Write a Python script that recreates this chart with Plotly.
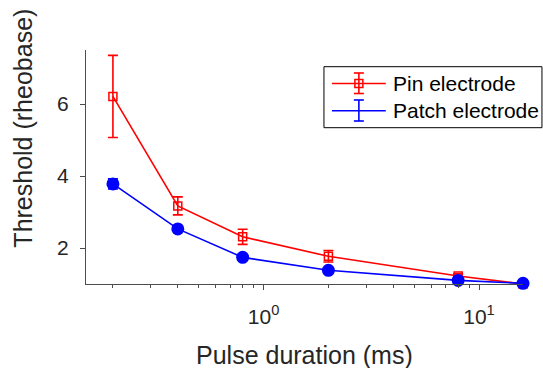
import numpy as np
import plotly.graph_objects as go

# Pulse durations (ms)
durations = [0.2, 0.4, 0.8, 2, 8, 16]

# Thresholds normalised to rheobase
pin_mean = [6.21, 3.17, 2.31, 1.77, 1.22, 1.0]
pin_err = [1.14, 0.25, 0.21, 0.16, 0.06, 0.0]

patch_mean = [3.78, 2.53, 1.74, 1.38, 1.10, 1.02]
patch_err = [0.14, 0.08, 0.06, 0.05, 0.04, 0.02]

y_ticks = [2, 4, 6]
x_major = [1, 10]
x_major_text = ["10<sup>0</sup>", "10<sup>1</sup>"]
x_minor = [0.2, 0.3, 0.4, 0.5, 0.6, 0.7, 0.8, 0.9, 2, 3, 4, 5, 6, 7, 8, 9]

W, H = 543, 368
L, R, T, B = 85.5, 19.5, 50, 84
PW, PH = W - L - R, H - T - B
FONT = "Liberation Sans, Arial, Helvetica, sans-serif"
TXT = "#262626"
RED, BLUE = "#ff0000", "#0000ff"


def px(x):
    return (x - L) / PW


def py(y):
    return (H - B - y) / PH


fig = go.Figure()
fig.add_trace(go.Scatter(
    x=durations, y=pin_mean, mode="lines+markers", name="Pin electrode",
    line=dict(color=RED, width=1.6),
    marker=dict(symbol="square-open", size=8, color=RED, line=dict(width=1.5, color=RED)),
    error_y=dict(type="data", array=pin_err, visible=True, color=RED, thickness=1.6, width=5),
    cliponaxis=False, showlegend=False,
))
fig.add_trace(go.Scatter(
    x=durations, y=patch_mean, mode="lines+markers", name="Patch electrode",
    line=dict(color=BLUE, width=1.6),
    marker=dict(symbol="circle", size=13, color=BLUE),
    error_y=dict(type="data", array=patch_err, visible=True, color=BLUE, thickness=1.6, width=5),
    cliponaxis=False, showlegend=False,
))

# Legend box drawn by hand so each entry shows its error-bar glyph
shapes = []
ann = []
lx0, lx1, ly0, ly1 = 324, 542.5, 66.7, 127.7
shapes.append(dict(type="rect", xref="paper", yref="paper",
                   x0=px(lx0), x1=px(lx1), y0=py(ly1), y1=py(ly0),
                   line=dict(color="#000000", width=1), fillcolor="white", layer="above"))
entries = [("Pin electrode", RED, 83.5, 73, 93.5, True),
           ("Patch electrode", BLUE, 110.7, 100, 121, False)]
for label, col, yc, ytop, ybot, sq in entries:
    shapes.append(dict(type="line", xref="paper", yref="paper",
                       x0=px(332), x1=px(386), y0=py(yc), y1=py(yc),
                       line=dict(color=col, width=1.6), layer="above"))
    shapes.append(dict(type="line", xref="paper", yref="paper",
                       x0=px(359), x1=px(359), y0=py(ytop), y1=py(ybot),
                       line=dict(color=col, width=1.6), layer="above"))
    for yy in (ytop, ybot):
        shapes.append(dict(type="line", xref="paper", yref="paper",
                           x0=px(354), x1=px(364), y0=py(yy), y1=py(yy),
                           line=dict(color=col, width=1.6), layer="above"))
    if sq:
        shapes.append(dict(type="rect", xref="paper", yref="paper",
                           x0=px(355), x1=px(363), y0=py(yc + 4), y1=py(yc - 4),
                           line=dict(color=col, width=1.5), layer="above"))
    ann.append(dict(text=label, xref="paper", yref="paper", x=px(391), y=py(yc),
                    xanchor="left", yanchor="middle", showarrow=False,
                    font=dict(family=FONT, size=21, color="#000000")))

# axis titles as free text
ann.append(dict(text="Threshold (rheobase)", xref="paper", yref="paper",
                x=px(22), y=py(128), xanchor="center", yanchor="middle",
                textangle=-90, showarrow=False,
                font=dict(family=FONT, size=25, color=TXT)))
ann.append(dict(text="Pulse duration (ms)", xref="paper", yref="paper",
                x=px(305), y=py(355), xanchor="center", yanchor="middle",
                showarrow=False,
                font=dict(family=FONT, size=25, color=TXT)))

fig.update_layout(
    width=W, height=H,
    margin=dict(l=L, r=R, t=T, b=B, pad=0),
    paper_bgcolor="white", plot_bgcolor="white",
    font=dict(family=FONT, size=21, color=TXT),
    shapes=shapes, annotations=ann,
    xaxis=dict(
        type="log", range=[np.log10(0.15), np.log10(16)], automargin=False,
        showgrid=False, zeroline=False, showline=True, linecolor="#4d4d4d", linewidth=1,
        ticks="outside", ticklen=5, tickcolor="#4d4d4d", tickwidth=1,
        tickvals=x_major, ticktext=x_major_text, ticklabelstandoff=9,
        tickfont=dict(family=FONT, size=21, color=TXT),
        minor=dict(tickvals=x_minor, ticks="outside", ticklen=3, tickcolor="#4d4d4d", showgrid=False),
    ),
    yaxis=dict(
        range=[1, 7.5], automargin=False, showgrid=False, zeroline=False,
        showline=True, linecolor="#4d4d4d", linewidth=1,
        ticks="outside", ticklen=5, tickcolor="#4d4d4d", tickwidth=1,
        tickvals=y_ticks, tickfont=dict(family=FONT, size=21, color=TXT),
        ticklabelstandoff=7,
    ),
)

fig.write_html("out.html")
